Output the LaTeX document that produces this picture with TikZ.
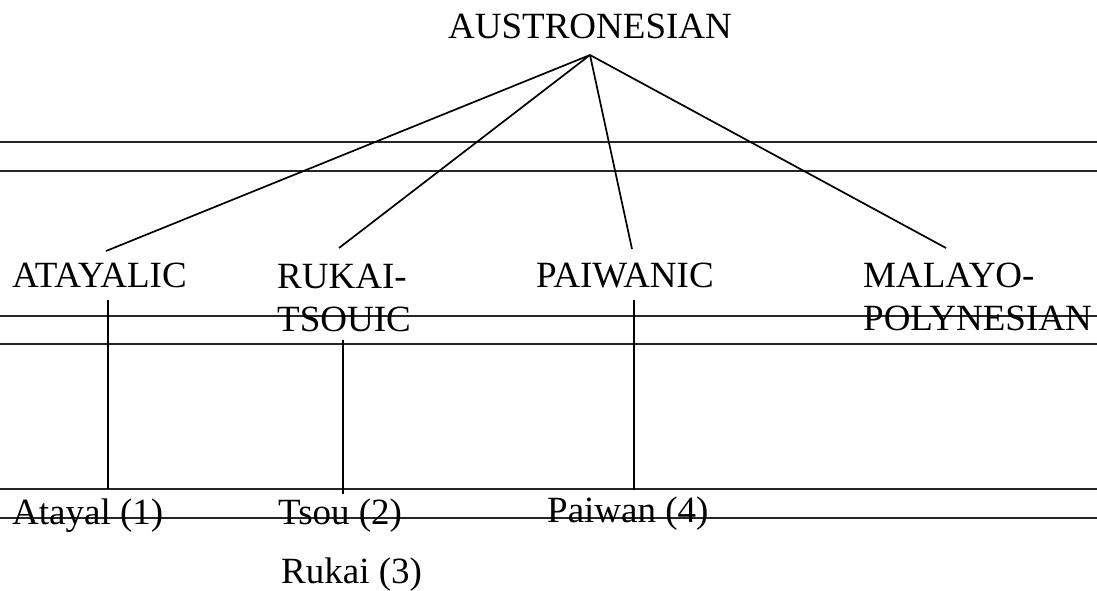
\documentclass[tikz,border=0pt]{standalone}
\usepackage{fontspec}
\setmainfont{Liberation Serif}
\begin{document}
\begin{tikzpicture}[x=1pt,y=-1pt,
  label/.style={anchor=base west,inner sep=0pt,align=left,
    font=\fontsize{37}{43}\selectfont},
  branch/.style={line width=1.7pt},
  rule/.style={line width=1.3pt,black!85}]
\useasboundingbox (0,0) rectangle (1097,590);

% ruled paper lines
\foreach \y in {142,171,316,344,489,518}
  \draw[rule] (0,\y) -- (1097,\y);

% family labels (two-line labels are anchored on their last line)
\node[label] (aus) at (448,38) {AUSTRONESIAN};
\node[label] (ata) at (12,287) {ATAYALIC};
\node[label] (rts) at (277,331) {RUKAI-\\TSOUIC};
\node[label] (pwc) at (536,287) {PAIWANIC};
\node[label] (mp)  at (863,330) {MALAYO-\\POLYNESIAN};

% languages
\node[label] (atayal) at (12,524) {Atayal (1)};
\node[label] (tsou)   at (278,524) {Tsou (2)};
\node[label] (paiwan) at (547,522) {Paiwan (4)};
\node[label] (rukai)  at (281,583) {Rukai (3)};

% branch end points
\coordinate (apex) at (590,55);
\coordinate (ataT) at (106,251);
\coordinate (rtsT) at (339,248);
\coordinate (pwcT) at (632,249);
\coordinate (mpT)  at (946,248);
\coordinate (ataB) at (108,300);
\coordinate (rtsB) at (343,340);
\coordinate (pwcB) at (634,300);
\coordinate (ataE) at (108,489);
\coordinate (rtsE) at (343,494);
\coordinate (pwcE) at (634,490);

\draw[branch] (apex) -- (ataT);
\draw[branch] (apex) -- (rtsT);
\draw[branch] (apex) -- (pwcT);
\draw[branch] (apex) -- (mpT);

\draw[branch] (ataB) -- (ataE);
\draw[branch] (rtsB) -- (rtsE);
\draw[branch] (pwcB) -- (pwcE);
\end{tikzpicture}
\end{document}
